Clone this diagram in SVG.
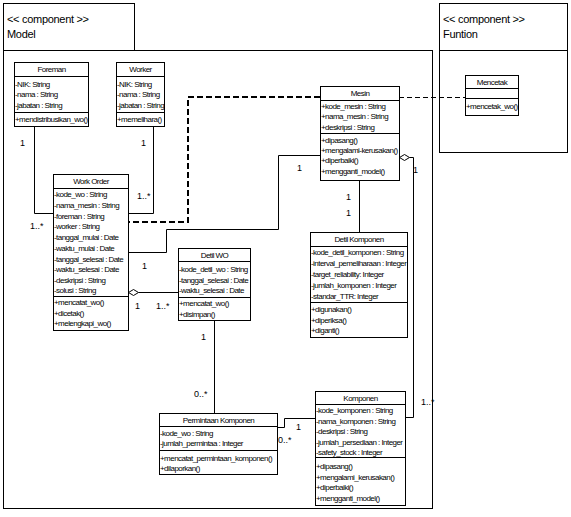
<svg xmlns="http://www.w3.org/2000/svg" width="571" height="517" viewBox="0 0 571 517">
<style>
.b{fill:#fff;stroke:#000;stroke-width:1}
.l{fill:none;stroke:#000;stroke-width:1}
.t{font-family:"Liberation Sans",Arial,sans-serif;font-size:8px;letter-spacing:-0.55px;fill:#000}
.c{text-anchor:middle}
.m{font-family:"Liberation Sans",Arial,sans-serif;font-size:9px;fill:#000}
.pk{font-family:"Liberation Sans",Arial,sans-serif;font-size:11px;letter-spacing:-0.3px;fill:#000}
</style>
<rect width="571" height="517" fill="#fff"/>
<g id="pkg-model">
<rect class="b" x="3.5" y="3.5" width="131" height="47"/>
<rect class="l" x="3.5" y="50.5" width="429" height="458"/>
<text class="pk" x="7" y="23">&lt;&lt; component &gt;&gt;</text>
<text class="pk" x="7" y="38">Model</text>
</g>
<g id="pkg-funtion">
<rect class="b" x="439.5" y="3.5" width="128" height="47"/>
<rect class="l" x="439.5" y="50.5" width="128" height="102"/>
<text class="pk" x="443" y="23">&lt;&lt; component &gt;&gt;</text>
<text class="pk" x="443" y="38">Funtion</text>
</g>
<g id="connectors">
<polyline class="l" points="34.5,126 34.5,213.5 53,213.5"/>
<polyline class="l" points="153.5,126 153.5,213.5 128,213.5"/>
<polyline fill="none" stroke="#000" stroke-width="2" stroke-dasharray="6,3" points="320,97 188,97 188,222 128,222"/>
<line class="l" x1="399" y1="97.5" x2="465" y2="97.5" stroke-dasharray="5,3"/>
<polyline class="l" points="320,155.5 278.5,155.5 278.5,229.5 166.5,229.5 166.5,252.5 128,252.5"/>
<polygon class="b" points="128.5,292.5 133.5,289.5 138.5,292.5 133.5,295.5"/>
<line class="l" x1="138.5" y1="292.5" x2="178" y2="292.5"/>
<line class="l" x1="214.5" y1="320" x2="214.5" y2="413"/>
<line class="l" x1="359.5" y1="180" x2="359.5" y2="232"/>
<polygon class="b" points="399.5,157.5 404.5,154.5 409.5,157.5 404.5,160.5"/>
<polyline class="l" points="409.5,157.5 413.5,157.5 413.5,417.5 405,417.5"/>
<polyline class="l" points="277,427.5 284.5,427.5 284.5,418.5 315,418.5"/>
<text class="m" x="20" y="146">1</text>
<text class="m" x="30" y="229">1..*</text>
<text class="m" x="141" y="146">1</text>
<text class="m" x="137" y="199">1..*</text>
<text class="m" x="297" y="171">1</text>
<text class="m" x="142" y="269">1</text>
<text class="m" x="135" y="309">1</text>
<text class="m" x="156" y="309">1..*</text>
<text class="m" x="201" y="340">1</text>
<text class="m" x="194" y="397">0..*</text>
<text class="m" x="346" y="200">1</text>
<text class="m" x="346" y="216">1</text>
<text class="m" x="413" y="173">1</text>
<text class="m" x="421" y="405">1..*</text>
<text class="m" x="296" y="430">1</text>
<text class="m" x="278" y="443">0..*</text>
</g>
<g id="foreman">
<rect class="b" x="14.5" y="62.5" width="74" height="64"/>
<line class="l" x1="14.5" y1="76.5" x2="88.5" y2="76.5"/>
<line class="l" x1="14.5" y1="112.5" x2="88.5" y2="112.5"/>
<text class="t c" x="51.5" y="72">Foreman</text>
<text class="t" x="15" y="87">-NIK: String</text>
<text class="t" x="15" y="97">-nama : String</text>
<text class="t" x="15" y="108">-jabatan : String</text>
<text class="t" x="15" y="122">+mendistribusikan_wo()</text>
</g>
<g id="worker">
<rect class="b" x="116.5" y="62.5" width="48" height="64"/>
<line class="l" x1="116.5" y1="76.5" x2="164.5" y2="76.5"/>
<line class="l" x1="116.5" y1="112.5" x2="164.5" y2="112.5"/>
<text class="t c" x="140.5" y="72">Worker</text>
<text class="t" x="117" y="87">-NIK: String</text>
<text class="t" x="117" y="97">-nama : String</text>
<text class="t" x="117" y="108">-jabatan : String</text>
<text class="t" x="117" y="122">+memelihara()</text>
</g>
<g id="work-order">
<rect class="b" x="53.5" y="174.5" width="75" height="156"/>
<line class="l" x1="53.5" y1="188.5" x2="128.5" y2="188.5"/>
<line class="l" x1="53.5" y1="296.5" x2="128.5" y2="296.5"/>
<text class="t c" x="91" y="184">Work Order</text>
<text class="t" x="54" y="197">-kode_wo : String</text>
<text class="t" x="54" y="208">-nama_mesin : String</text>
<text class="t" x="54" y="219">-foreman : String</text>
<text class="t" x="54" y="229">-worker : String</text>
<text class="t" x="54" y="240">-tanggal_mulai : Date</text>
<text class="t" x="54" y="251">-waktu_mulai : Date</text>
<text class="t" x="54" y="262">-tanggal_selesai : Date</text>
<text class="t" x="54" y="272">-waktu_selesai : Date</text>
<text class="t" x="54" y="283">-deskripsi : String</text>
<text class="t" x="54" y="293">-solusi : String</text>
<text class="t" x="54" y="305">+mencatat_wo()</text>
<text class="t" x="54" y="316">+dicetak()</text>
<text class="t" x="54" y="326">+melengkapi_wo()</text>
</g>
<g id="mesin">
<rect class="b" x="320.5" y="86.5" width="79" height="94"/>
<line class="l" x1="320.5" y1="100.5" x2="399.5" y2="100.5"/>
<line class="l" x1="320.5" y1="133.5" x2="399.5" y2="133.5"/>
<text class="t c" x="360" y="96">Mesin</text>
<text class="t" x="321" y="109">+kode_mesin : String</text>
<text class="t" x="321" y="119">+nama_mesin : String</text>
<text class="t" x="321" y="130">+deskripsi : String</text>
<text class="t" x="321" y="143">+dipasang()</text>
<text class="t" x="321" y="153">+mengalami-kerusakan()</text>
<text class="t" x="321" y="163">+diperbaiki()</text>
<text class="t" x="321" y="174">+mengganti_model()</text>
</g>
<g id="mencetak">
<rect class="b" x="465.5" y="75.5" width="53" height="40"/>
<line class="l" x1="465.5" y1="88.5" x2="518.5" y2="88.5"/>
<line class="l" x1="465.5" y1="98.5" x2="518.5" y2="98.5"/>
<text class="t c" x="492" y="85">Mencetak</text>
<text class="t" x="466" y="109">+mencetak_wo()</text>
</g>
<g id="detil-wo">
<rect class="b" x="178.5" y="248.5" width="72" height="72"/>
<line class="l" x1="178.5" y1="261.5" x2="250.5" y2="261.5"/>
<line class="l" x1="178.5" y1="297.5" x2="250.5" y2="297.5"/>
<text class="t c" x="214.5" y="258">Detil WO</text>
<text class="t" x="179" y="272">-kode_detil_wo : String</text>
<text class="t" x="179" y="283">-tanggal_selesai : Date</text>
<text class="t" x="179" y="293">-waktu_selesai : Date</text>
<text class="t" x="179" y="306">+mencatat_wo()</text>
<text class="t" x="179" y="317">+disimpan()</text>
</g>
<g id="detil-komponen">
<rect class="b" x="310.5" y="232.5" width="97" height="105"/>
<line class="l" x1="310.5" y1="246.5" x2="407.5" y2="246.5"/>
<line class="l" x1="310.5" y1="302.5" x2="407.5" y2="302.5"/>
<text class="t c" x="359" y="242">Detil Komponen</text>
<text class="t" x="311" y="255">-kode_detil_komponen : String</text>
<text class="t" x="311" y="266">-interval_pemeliharaan : Integer</text>
<text class="t" x="311" y="277">-target_reliability: Integer</text>
<text class="t" x="311" y="288">-jumlah_komponen : Integer</text>
<text class="t" x="311" y="299">-standar_TTR: Integer</text>
<text class="t" x="311" y="312">+digunakan()</text>
<text class="t" x="311" y="323">+diperiksa()</text>
<text class="t" x="311" y="333">+diganti()</text>
</g>
<g id="permintaan-komponen">
<rect class="b" x="159.5" y="413.5" width="118" height="61"/>
<line class="l" x1="159.5" y1="426.5" x2="277.5" y2="426.5"/>
<line class="l" x1="159.5" y1="450.5" x2="277.5" y2="450.5"/>
<text class="t c" x="218.5" y="423">Permintaan Komponen</text>
<text class="t" x="160" y="436">-kode_wo : String</text>
<text class="t" x="160" y="446">-jumlah_permintaa : Integer</text>
<text class="t" x="160" y="461">+mencatat_permintaan_komponen()</text>
<text class="t" x="160" y="471">+dilaporkan()</text>
</g>
<g id="komponen">
<rect class="b" x="315.5" y="391.5" width="90" height="114"/>
<line class="l" x1="315.5" y1="404.5" x2="405.5" y2="404.5"/>
<line class="l" x1="315.5" y1="457.5" x2="405.5" y2="457.5"/>
<text class="t c" x="360.5" y="401">Komponen</text>
<text class="t" x="316" y="413">-kode_komponen : String</text>
<text class="t" x="316" y="424">-nama_komponen : String</text>
<text class="t" x="316" y="434">-deskripsi : String</text>
<text class="t" x="316" y="445">-jumlah_persediaan : Integer</text>
<text class="t" x="316" y="455">-safety_stock : Integer</text>
<text class="t" x="316" y="469">+dipasang()</text>
<text class="t" x="316" y="480">+mengalami_kerusakan()</text>
<text class="t" x="316" y="490">+diperbaiki()</text>
<text class="t" x="316" y="501">+mengganti_model()</text>
</g>
</svg>
